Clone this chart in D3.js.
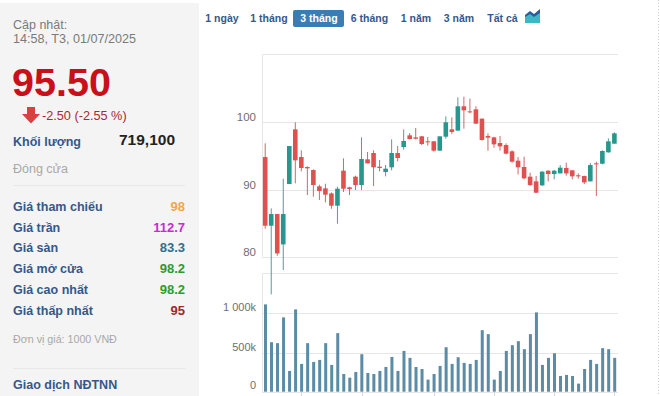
<!DOCTYPE html>
<html>
<head>
<meta charset="utf-8">
<script src="https://cdn.jsdelivr.net/npm/d3@7"></script>
<style>
    html, body { margin: 0; padding: 0; background: #fff; overflow: hidden; }
    text { font-family: "Liberation Sans", Arial, sans-serif; }
</style>
</head>
<body>
<svg id="chart" width="660" height="396"></svg>
<script>
// candle values, one entry per session
var opens = [94.83,84.61,86.35,81.83,90.81,98.95,94.83,93.35,92.9,90.47,90.17,89.42,87.59,92.8,90.32,91.91,90.67,94.49,95.43,93.4,92.6,93.3,95.43,96.32,98.06,97.76,97.91,97.17,97.17,95.78,97.86,98.95,98.76,102.38,101.63,101.93,100.54,97.96,97.76,96.92,96.62,95.68,94.29,93.35,91.91,91.21,90.62,92.8,92.3,92.4,93.2,92.85,92.11,92.01,91.21,93.89,93.84,95.53,96.82];
var closes = [84.61,86.35,80.49,86.35,96.47,94.34,93.2,93.15,90.67,89.77,89.23,87.59,90.12,90.12,90.07,90.67,94.54,93.89,93.3,93.2,93.1,95.43,94.69,97.22,97.51,97.56,96.77,97.02,95.78,97.91,100,98.56,102.38,101.78,101.48,99.8,97.37,97.71,96.72,96.42,95.33,94.14,93.3,91.66,90.67,89.52,92.65,92.3,92.8,93.25,92.4,91.96,91.96,91.06,93.64,93.74,95.73,97.17,98.36];
var highs = [96.87,87.19,86.35,91.61,96.47,100,95.83,93.44,93,90.72,90.86,89.57,90.42,94.64,90.42,92.06,97.76,95.58,95.83,94.39,93.64,97.46,96.47,98.95,98.41,99.15,97.96,97.81,97.22,97.91,100.89,100.74,103.72,103.82,103.52,102.38,100.59,98.36,97.86,97.96,96.87,95.83,94.83,94.88,92.5,92.01,92.75,92.85,92.9,93.64,93.99,92.9,92.4,92.06,93.94,94.14,95.83,97.61,98.51];
var lows = [84.16,74.39,80.14,78.01,90.81,90.91,92.7,89.18,88.93,88.43,88.08,87.14,84.91,89.62,89.18,89.92,89.92,93.89,90.52,92.7,91.96,92.85,94.19,95.93,97.46,97.46,96.62,96.52,95.63,95.78,97.56,98.26,98.76,99.05,101.34,99.75,97.27,95.78,96.22,95.78,95.23,93.99,92.25,91.51,90.52,89.52,90.52,91.21,91.51,92.4,92.06,91.51,91.61,90.81,91.21,89.03,93.74,95.48,96.82];
var volumes = [1115,632,620,949,265,1051,355,620,380,406,620,342,748,226,179,252,479,239,226,265,316,444,265,521,432,316,290,154,226,329,568,355,440,368,355,406,786,735,154,265,521,594,645,543,735,1013,342,432,491,201,214,201,103,290,406,355,556,543,432];

var priceTicks = [80, 90, 100];
var volumeTicks = [0, 500, 1000];
var monthTickIdx = [6, 16, 28, 38, 48, 58];
var rangeTabs = ["1 ngày", "1 tháng", "3 tháng", "6 tháng", "1 năm", "3 năm", "Tất cả"];
var tabCenters = [222, 269, 319, 369.5, 416, 459, 502.5];

var statLabels = ["Giá tham chiếu", "Giá trần", "Giá sàn", "Giá mở cửa", "Giá cao nhất", "Giá thấp nhất"];
var statValues = ["98", "112.7", "83.3", "98.2", "98.2", "95"];
var statColors = ["#f0a64a", "#c92bd0", "#2f6f8f", "#2f9a2f", "#2f9a2f", "#9c2a2e"];

var svg = d3.select("#chart");
var UP = "#26978c", DOWN = "#e0504f", WICK_UP = "#4f9f97", WICK_DOWN = "#c96a68";
var GRID = "#e6e6e6", LABEL = "#6f6f6f", NAVY = "#35588a";

// ---- left info panel
svg.append("rect").attr("x", 0).attr("y", 3).attr("width", 199).attr("height", 393).attr("fill", "#f4f4f4");

function label(x, y, txt, size, color, weight, anchor) {
    return svg.append("text")
        .attr("x", x).attr("y", y)
        .attr("font-size", size)
        .attr("fill", color)
        .attr("font-weight", weight || "normal")
        .attr("text-anchor", anchor || "start")
        .text(txt);
}

label(13, 29, "Cập nhật:", 12.5, "#7a7a7a");
label(13, 43, "14:58, T3, 01/07/2025", 12.6, "#7a7a7a");
label(12, 96, "95.50", 39.5, "#c8101a", "bold");
svg.append("path")
    .attr("d", "M27 107h8v7h5l-9 9.5l-9-9.5h5z")
    .attr("fill", "#d9403f");
label(42, 120, "-2.50 (-2.55 %)", 12.7, "#a62a30");
label(13, 146, "Khối lượng", 12.5, NAVY, "bold");
label(119, 145, "719,100", 15.5, "#222", "bold");
label(13, 173, "Đóng cửa", 12.5, "#a8a8a8");
svg.append("line").attr("x1", 13).attr("x2", 185).attr("y1", 185.5).attr("y2", 185.5).attr("stroke", "#e8e8e8");

statLabels.forEach(function (d, i) {
    var y = 211 + i * 20.7;
    label(13, y, d, 12.5, NAVY, "bold");
    label(185, y, statValues[i], 13, statColors[i], "bold", "end");
});

label(13, 343, "Đơn vị giá: 1000 VNĐ", 10.7, "#a8a8a8");
svg.append("line").attr("x1", 13).attr("x2", 185).attr("y1", 368.5).attr("y2", 368.5).attr("stroke", "#e8e8e8");
label(13, 389, "Giao dịch NĐTNN", 12.5, NAVY, "bold");

// ---- range tabs
svg.append("rect").attr("x", 293).attr("y", 10).attr("width", 51).attr("height", 17).attr("rx", 2).attr("fill", "#3b7cb3");
rangeTabs.forEach(function (d, i) {
    label(tabCenters[i], 22, d, 10.5, i == 2 ? "#fff" : NAVY, "bold", "middle");
});
// small area-chart switch icon
svg.append("path").attr("d", "M525 22V15L530 11L534 14L540 9V22Z").attr("fill", "#2b5c9a");
svg.append("path").attr("d", "M525 23V17L530 14L534 17L540 13V23Z").attr("fill", "#3fb6c4");

// ---- scales
var x = d3.scaleLinear().domain([0, volumes.length - 1]).range([265.2, 614.4]);
var y = d3.scaleLinear().domain([80, 100]).range([256.7, 122.3]);
var v = d3.scaleLinear().domain([0, 1000]).range([391.7, 313.4]);

var plotLeft = 262, plotRight = 618, priceTop = 54, volTop = 273.5;

// frame and grid
var frame = svg.append("g").attr("stroke", GRID).attr("fill", "none");
frame.append("path").attr("d", "M" + plotRight + " " + (priceTop + .5) + "H" + (plotLeft + .5) + "V" + y(80));
frame.append("path").attr("d", "M" + plotRight + " " + volTop + "H" + (plotLeft + .5) + "V" + 393);

svg.append("g").selectAll("line").data(priceTicks).enter().append("line")
    .attr("x1", plotLeft).attr("x2", plotRight)
    .attr("y1", function (d) { return Math.round(y(d)) + .5; })
    .attr("y2", function (d) { return Math.round(y(d)) + .5; })
    .attr("stroke", GRID);
svg.append("g").selectAll("line").data(volumeTicks).enter().append("line")
    .attr("x1", plotLeft).attr("x2", plotRight)
    .attr("y1", function (d) { return Math.round(v(d)) + .5; })
    .attr("y2", function (d) { return Math.round(v(d)) + .5; })
    .attr("stroke", GRID);

// axis labels sit above their grid lines
svg.append("g").selectAll("text").data(priceTicks).enter().append("text")
    .attr("x", 256).attr("y", function (d) { return y(d) - 1; })
    .attr("text-anchor", "end").attr("font-size", 11.5).attr("fill", LABEL)
    .text(function (d) { return d; });
svg.append("g").selectAll("text").data(volumeTicks).enter().append("text")
    .attr("x", 256).attr("y", function (d) { return v(d) - 2 + (d == 0 ? -1 : 0); })
    .attr("text-anchor", "end").attr("font-size", 11).attr("fill", LABEL)
    .text(function (d) { return d == 0 ? "0" : (d == 1000 ? "1 000k" : d + "k"); });

// month ticks below the volume pane
svg.append("g").selectAll("line").data(monthTickIdx).enter().append("line")
    .attr("x1", function (d) { return Math.round(x(d)) + .5; })
    .attr("x2", function (d) { return Math.round(x(d)) + .5; })
    .attr("y1", 392).attr("y2", 396)
    .attr("stroke", "#d8d8d8");

// ---- volume bars
svg.append("g").selectAll("rect").data(volumes).enter().append("rect")
    .attr("x", function (d, i) { return x(i) - 1.2; })
    .attr("y", function (d) { return v(d); })
    .attr("width", 3)
    .attr("height", function (d) { return v(0) - v(d); })
    .attr("fill", "#5b8ba5");

// ---- candles
var candles = svg.append("g").selectAll("g").data(opens).enter().append("g");
candles.append("line")
    .attr("x1", function (d, i) { return x(i); })
    .attr("x2", function (d, i) { return x(i); })
    .attr("y1", function (d, i) { return y(highs[i]); })
    .attr("y2", function (d, i) { return y(lows[i]); })
    .attr("stroke", function (d, i) { return closes[i] >= d ? WICK_UP : WICK_DOWN; });
candles.append("rect")
    .attr("x", function (d, i) { return x(i) - 2.3; })
    .attr("width", 4.6)
    .attr("y", function (d, i) { return y(Math.max(d, closes[i])); })
    .attr("height", function (d, i) { return Math.max(1, Math.abs(y(d) - y(closes[i]))); })
    .attr("fill", function (d, i) { return closes[i] >= d ? UP : DOWN; });

// dotted edge on the right of the page
svg.append("line").attr("x1", 658.5).attr("x2", 658.5).attr("y1", 0).attr("y2", 396)
    .attr("stroke", "#cfcfcf").attr("stroke-dasharray", "1,2");
</script>
</body>
</html>
